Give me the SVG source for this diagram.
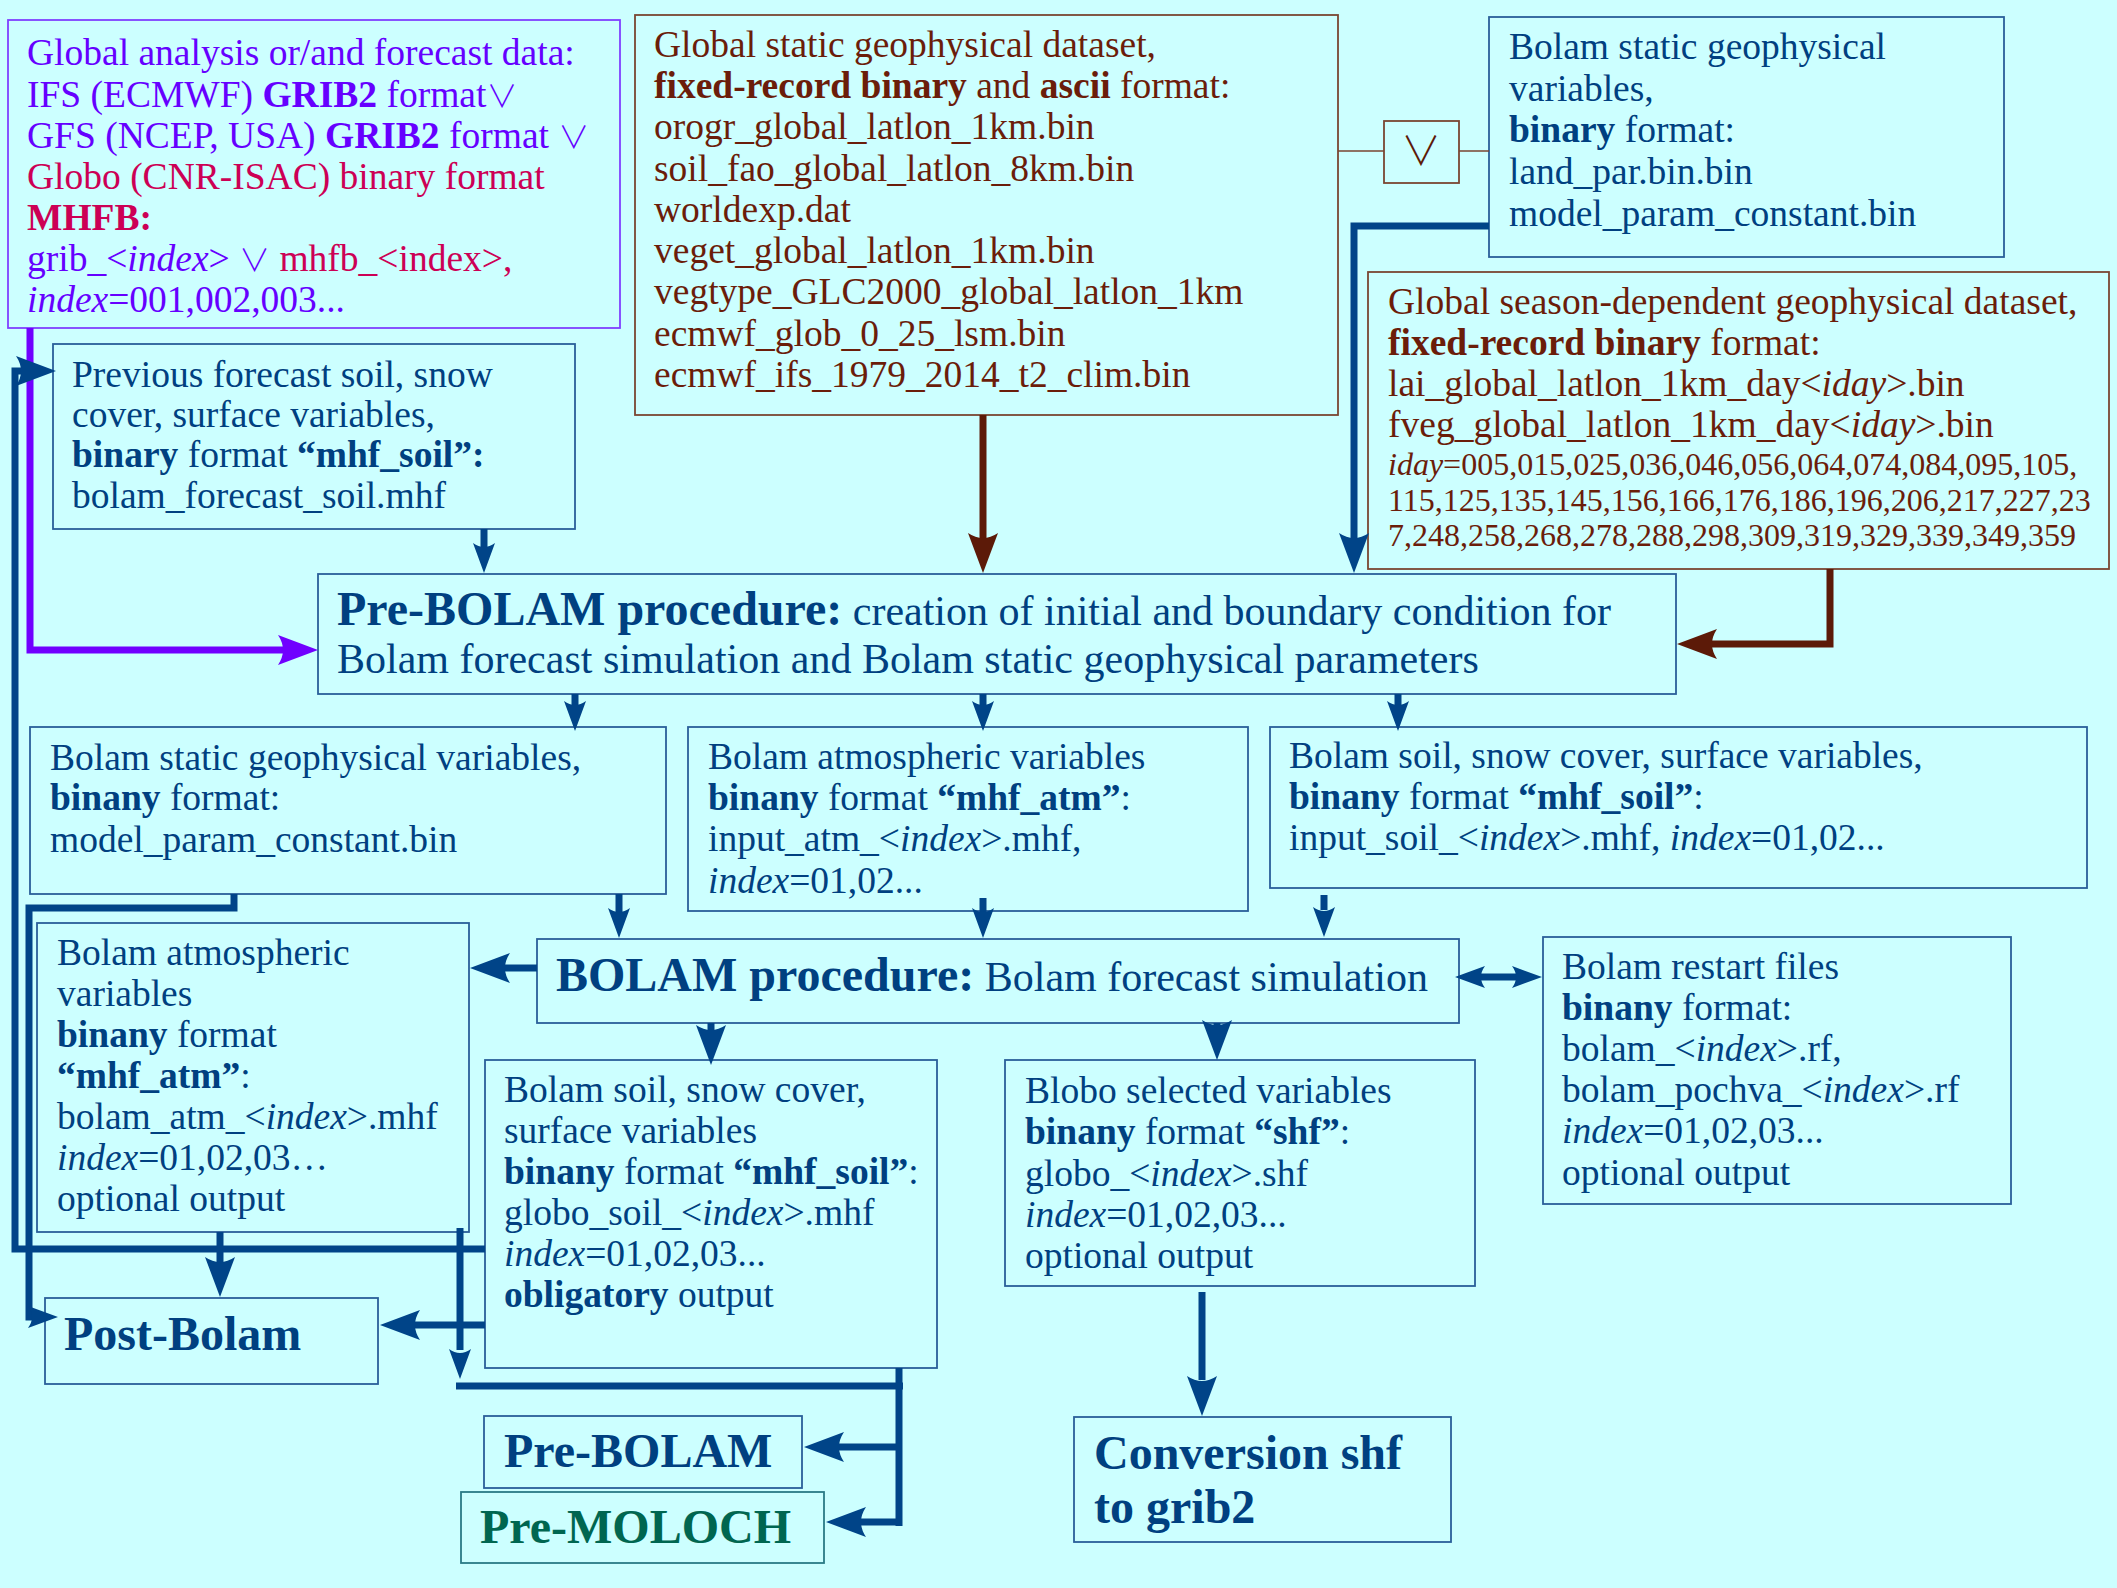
<svg xmlns="http://www.w3.org/2000/svg" xmlns:xlink="http://www.w3.org/1999/xlink" width="2117" height="1588" viewBox="0 0 2117 1588">
  <style>
    .t{font-family:"Liberation Serif","Times New Roman",serif;font-size:37.5px;fill:#004080}
    .b{font-weight:bold}
    .i{font-style:italic}
    .pu{fill:#6600ff}
    .cr{fill:#cc0055}
    .br{fill:#6b1d0a}
    .sm{font-size:32px}
    .h{font-size:48px;font-weight:bold}
    .r{font-size:42px;font-weight:normal}
    .sym{font-family:"Noto Sans CJK JP","DejaVu Sans",sans-serif;font-weight:300;font-size:31px}
    .box{fill:none;stroke:#2a5f9a;stroke-width:1.8}
    .boxp{fill:none;stroke:#8040ff;stroke-width:1.8}
    .boxb{fill:none;stroke:#7a4632;stroke-width:1.8}
    .boxg{fill:none;stroke:#2a7a86;stroke-width:1.8}
    .ln{fill:none;stroke:#004488;stroke-width:7}
    .lnp{fill:none;stroke:#7000ff;stroke-width:7}
    .lnb{fill:none;stroke:#5c1a08;stroke-width:7}
    .thin{fill:none;stroke:#7a4632;stroke-width:1.5}
    .ab{fill:#004488}
    .ap{fill:#7000ff}
    .abr{fill:#5c1a08}
  </style>
  <defs>
    <!-- arrowheads pointing along +x, tip at origin -->
    <path id="aL" d="M0,0 L-40,-15 Q-30,0 -40,15 Z"/>
    <path id="aS" d="M0,0 L-30,-11 Q-22,0 -30,11 Z"/>
  </defs>

  <rect width="2117" height="1588" fill="#ccffff"/>

  <!-- input: global analysis / forecast data -->
  <g id="global-analysis">
    <rect class="boxp" x="8" y="20" width="612" height="308"/>
    <text class="t pu" x="27" y="65">Global analysis or/and forecast data:</text>
    <text class="t pu" x="27" y="107">IFS (ECMWF) <tspan class="b">GRIB2</tspan> format<tspan class="sym">∨</tspan></text>
    <text class="t pu" x="27" y="148">GFS (NCEP, USA) <tspan class="b">GRIB2</tspan> format <tspan class="sym">∨</tspan></text>
    <text class="t cr" x="27" y="189">Globo (CNR-ISAC) binary format</text>
    <text class="t cr b" x="27" y="230">MHFB:</text>
    <text class="t pu" x="27" y="271">grib_&lt;<tspan class="i">index</tspan>&gt; <tspan class="sym">∨</tspan> <tspan class="cr">mhfb_&lt;index&gt;,</tspan></text>
    <text class="t pu" x="27" y="312"><tspan class="i">index</tspan>=001,002,003...</text>
  </g>

  <!-- input: global static geophysical dataset -->
  <g id="global-static">
    <rect class="boxb" x="635" y="15" width="703" height="400"/>
    <text class="t br" x="654" y="57">Global static geophysical dataset,</text>
    <text class="t br" x="654" y="98"><tspan class="b">fixed-record binary</tspan> and <tspan class="b">ascii</tspan> format:</text>
    <text class="t br" x="654" y="139">orogr_global_latlon_1km.bin</text>
    <text class="t br" x="654" y="181">soil_fao_global_latlon_8km.bin</text>
    <text class="t br" x="654" y="222">worldexp.dat</text>
    <text class="t br" x="654" y="263">veget_global_latlon_1km.bin</text>
    <text class="t br" x="654" y="304">vegtype_GLC2000_global_latlon_1km</text>
    <text class="t br" x="654" y="346">ecmwf_glob_0_25_lsm.bin</text>
    <text class="t br" x="654" y="387">ecmwf_ifs_1979_2014_t2_clim.bin</text>
  </g>

  <!-- "or" switch between static sources -->
  <g id="or-switch">
    <rect class="boxb" x="1384" y="121" width="75" height="62"/>
    <text x="1421" y="165" text-anchor="middle" style="font-family:'Noto Sans CJK JP','DejaVu Sans',sans-serif;font-weight:300;font-size:40px;fill:#5c1a08">∨</text>
  </g>

  <!-- input: Bolam static geophysical variables -->
  <g id="bolam-static-in">
    <rect class="box" x="1489" y="17" width="515" height="240"/>
    <text class="t" x="1509" y="59">Bolam static geophysical</text>
    <text class="t" x="1509" y="101">variables,</text>
    <text class="t" x="1509" y="142"><tspan class="b">binary</tspan> format:</text>
    <text class="t" x="1509" y="184">land_par.bin.bin</text>
    <text class="t" x="1509" y="226">model_param_constant.bin</text>
  </g>

  <!-- input: season-dependent dataset -->
  <g id="global-season">
    <rect class="boxb" x="1368" y="272" width="741" height="297"/>
    <text class="t br" x="1388" y="314">Global season-dependent geophysical dataset,</text>
    <text class="t br" x="1388" y="355"><tspan class="b">fixed-record binary</tspan> format:</text>
    <text class="t br" x="1388" y="396">lai_global_latlon_1km_day&lt;<tspan class="i">iday</tspan>&gt;.bin</text>
    <text class="t br" x="1388" y="437">fveg_global_latlon_1km_day&lt;<tspan class="i">iday</tspan>&gt;.bin</text>
    <text class="t br sm" x="1388" y="475"><tspan class="i">iday</tspan>=005,015,025,036,046,056,064,074,084,095,105,</text>
    <text class="t br sm" x="1388" y="511">115,125,135,145,156,166,176,186,196,206,217,227,23</text>
    <text class="t br sm" x="1388" y="546">7,248,258,268,278,288,298,309,319,329,339,349,359</text>
  </g>

  <!-- input: previous forecast soil -->
  <g id="previous-soil">
    <rect class="box" x="53" y="344" width="522" height="185"/>
    <text class="t" x="72" y="387">Previous forecast soil, snow</text>
    <text class="t" x="72" y="427">cover, surface variables,</text>
    <text class="t" x="72" y="467"><tspan class="b">binary</tspan> format <tspan class="b">“mhf_soil”:</tspan></text>
    <text class="t" x="72" y="508">bolam_forecast_soil.mhf</text>
  </g>

  <!-- Pre-BOLAM procedure -->
  <g id="prebolam-procedure">
    <rect class="box" x="318" y="574" width="1358" height="120"/>
    <text class="t h" x="337" y="625">Pre-BOLAM procedure:<tspan class="r"> creation of initial and boundary condition for</tspan></text>
    <text class="t" x="337" y="673" style="font-size:42px">Bolam forecast simulation and Bolam static geophysical parameters</text>
  </g>

  <!-- Pre-BOLAM outputs -->
  <g id="static-out">
    <rect class="box" x="30" y="727" width="636" height="167"/>
    <text class="t" x="50" y="770">Bolam static geophysical variables,</text>
    <text class="t" x="50" y="810"><tspan class="b">binany</tspan> format:</text>
    <text class="t" x="50" y="852">model_param_constant.bin</text>
  </g>
  <g id="atm-in">
    <rect class="box" x="688" y="727" width="560" height="184"/>
    <text class="t" x="708" y="769">Bolam atmospheric variables</text>
    <text class="t" x="708" y="810"><tspan class="b">binany</tspan> format <tspan class="b">“mhf_atm”</tspan>:</text>
    <text class="t" x="708" y="851">input_atm_&lt;<tspan class="i">index</tspan>&gt;.mhf,</text>
    <text class="t" x="708" y="893"><tspan class="i">index</tspan>=01,02...</text>
  </g>
  <g id="soil-in">
    <rect class="box" x="1270" y="727" width="817" height="161"/>
    <text class="t" x="1289" y="768">Bolam soil, snow cover, surface variables,</text>
    <text class="t" x="1289" y="809"><tspan class="b">binany</tspan> format <tspan class="b">“mhf_soil”</tspan>:</text>
    <text class="t" x="1289" y="850">input_soil_&lt;<tspan class="i">index</tspan>&gt;.mhf, <tspan class="i">index</tspan>=01,02...</text>
  </g>

  <!-- BOLAM procedure -->
  <g id="bolam-procedure">
    <rect class="box" x="537" y="939" width="922" height="84"/>
    <text class="t h" x="556" y="991">BOLAM procedure:<tspan class="r"> Bolam forecast simulation</tspan></text>
  </g>

  <!-- BOLAM outputs -->
  <g id="atm-out">
    <rect class="box" x="37" y="923" width="432" height="309"/>
    <text class="t" x="57" y="965">Bolam atmospheric</text>
    <text class="t" x="57" y="1006">variables</text>
    <text class="t" x="57" y="1047"><tspan class="b">binany</tspan> format</text>
    <text class="t" x="57" y="1088"><tspan class="b">“mhf_atm”</tspan>:</text>
    <text class="t" x="57" y="1129">bolam_atm_&lt;<tspan class="i">index</tspan>&gt;.mhf</text>
    <text class="t" x="57" y="1170"><tspan class="i">index</tspan>=01,02,03…</text>
    <text class="t" x="57" y="1211">optional output</text>
  </g>
  <g id="soil-out">
    <rect class="box" x="485" y="1060" width="452" height="308"/>
    <text class="t" x="504" y="1102">Bolam soil, snow cover,</text>
    <text class="t" x="504" y="1143">surface variables</text>
    <text class="t" x="504" y="1184"><tspan class="b">binany</tspan> format <tspan class="b">“mhf_soil”</tspan>:</text>
    <text class="t" x="504" y="1225">globo_soil_&lt;<tspan class="i">index</tspan>&gt;.mhf</text>
    <text class="t" x="504" y="1266"><tspan class="i">index</tspan>=01,02,03...</text>
    <text class="t" x="504" y="1307"><tspan class="b">obligatory</tspan> output</text>
  </g>
  <g id="shf-out">
    <rect class="box" x="1005" y="1060" width="470" height="226"/>
    <text class="t" x="1025" y="1103">Blobo selected variables</text>
    <text class="t" x="1025" y="1144"><tspan class="b">binany</tspan> format <tspan class="b">“shf”</tspan>:</text>
    <text class="t" x="1025" y="1186">globo_&lt;<tspan class="i">index</tspan>&gt;.shf</text>
    <text class="t" x="1025" y="1227"><tspan class="i">index</tspan>=01,02,03...</text>
    <text class="t" x="1025" y="1268">optional output</text>
  </g>
  <g id="restart">
    <rect class="box" x="1543" y="937" width="468" height="267"/>
    <text class="t" x="1562" y="979">Bolam restart files</text>
    <text class="t" x="1562" y="1020"><tspan class="b">binany</tspan> format:</text>
    <text class="t" x="1562" y="1061">bolam_&lt;<tspan class="i">index</tspan>&gt;.rf,</text>
    <text class="t" x="1562" y="1102">bolam_pochva_&lt;<tspan class="i">index</tspan>&gt;.rf</text>
    <text class="t" x="1562" y="1143"><tspan class="i">index</tspan>=01,02,03...</text>
    <text class="t" x="1562" y="1185">optional output</text>
  </g>

  <!-- downstream procedures -->
  <g id="post-bolam">
    <rect class="box" x="45" y="1298" width="333" height="86"/>
    <text class="t h" x="64" y="1350">Post-Bolam</text>
  </g>
  <g id="pre-bolam-next">
    <rect class="box" x="484" y="1416" width="318" height="72"/>
    <text class="t h" x="504" y="1467">Pre-BOLAM</text>
  </g>
  <g id="pre-moloch">
    <rect class="boxg" x="461" y="1492" width="363" height="71"/>
    <text class="t h" x="480" y="1543" style="fill:#006650">Pre-MOLOCH</text>
  </g>
  <g id="conversion">
    <rect class="box" x="1074" y="1417" width="377" height="125"/>
    <text class="t h" x="1094" y="1469">Conversion shf</text>
    <text class="t h" x="1094" y="1523">to grib2</text>
  </g>

  <!-- connectors -->
  <g id="connectors">
    <!-- or-switch links -->
    <path class="thin" d="M1338,151 H1384 M1459,151 H1489"/>

    <!-- global data into Pre-BOLAM -->
    <path class="lnp" d="M30,328 V650 H285"/>
    <use xlink:href="#aL" class="ap" transform="translate(318,650)"/>

    <!-- previous soil into Pre-BOLAM -->
    <path class="ln" d="M484,529 V548"/>
    <use xlink:href="#aS" class="ab" transform="translate(484,573) rotate(90)"/>

    <!-- static dataset into Pre-BOLAM -->
    <path class="lnb" d="M983,415 V540"/>
    <use xlink:href="#aL" class="abr" transform="translate(983,573) rotate(90)"/>

    <!-- Bolam static input into Pre-BOLAM -->
    <path class="ln" d="M1489,226 H1354 V540"/>
    <use xlink:href="#aL" class="ab" transform="translate(1354,573) rotate(90)"/>

    <!-- season dataset into Pre-BOLAM -->
    <path class="lnb" d="M1830,569 V644 H1710"/>
    <use xlink:href="#aL" class="abr" transform="translate(1677,644) rotate(180)"/>

    <!-- Pre-BOLAM outputs -->
    <path class="ln" d="M575,694 V706 M983,694 V706 M1398,694 V706"/>
    <use xlink:href="#aS" class="ab" transform="translate(575,731) rotate(90)"/>
    <use xlink:href="#aS" class="ab" transform="translate(983,731) rotate(90)"/>
    <use xlink:href="#aS" class="ab" transform="translate(1398,731) rotate(90)"/>

    <!-- inputs into BOLAM -->
    <path class="ln" d="M619,894 V912 M983,898 V912 M1324,895 V910"/>
    <use xlink:href="#aS" class="ab" transform="translate(619,938) rotate(90)"/>
    <use xlink:href="#aS" class="ab" transform="translate(983,938) rotate(90)"/>
    <use xlink:href="#aS" class="ab" transform="translate(1324,937) rotate(90)"/>

    <!-- BOLAM to atmospheric output -->
    <path class="ln" d="M537,968 H505"/>
    <use xlink:href="#aL" class="ab" transform="translate(470,968) rotate(180)"/>

    <!-- BOLAM to/from restart files -->
    <path class="ln" d="M1478,977 H1520"/>
    <use xlink:href="#aS" class="ab" transform="translate(1455,977) rotate(180)"/>
    <use xlink:href="#aS" class="ab" transform="translate(1542,977)"/>

    <!-- BOLAM to soil and shf outputs -->
    <path class="ln" d="M711,1023 V1038 M1217,1023 V1035"/>
    <use xlink:href="#aL" class="ab" transform="translate(711,1065) rotate(90)"/>
    <use xlink:href="#aL" class="ab" transform="translate(1217,1060) rotate(90)"/>

    <!-- shf to conversion -->
    <path class="ln" d="M1202,1292 V1380"/>
    <use xlink:href="#aL" class="ab" transform="translate(1202,1416) rotate(90)"/>

    <!-- atmospheric output to Post-Bolam -->
    <path class="ln" d="M220,1232 V1262"/>
    <use xlink:href="#aL" class="ab" transform="translate(220,1297) rotate(90)"/>

    <!-- soil output to Post-Bolam -->
    <path class="ln" d="M485,1325 H414"/>
    <use xlink:href="#aL" class="ab" transform="translate(380,1325) rotate(180)"/>

    <!-- soil output fed back as previous forecast soil -->
    <path class="ln" d="M485,1249 H15 V371 H26"/>
    <use xlink:href="#aL" class="ab" transform="translate(56,371)"/>

    <!-- static output to Post-Bolam -->
    <path class="ln" d="M234,894 V908 H29 V1317 H34"/>
    <use xlink:href="#aS" class="ab" transform="translate(58,1317)"/>

    <!-- soil output to next Pre-BOLAM / Pre-MOLOCH -->
    <path class="ln" d="M460,1228 V1350"/>
    <use xlink:href="#aS" class="ab" transform="translate(460,1379) rotate(90)"/>
    <path class="ln" d="M456,1386 H903 M899,1368 V1526 M899,1447 H836 M899,1522 H857"/>
    <use xlink:href="#aL" class="ab" transform="translate(804,1447) rotate(180)"/>
    <use xlink:href="#aL" class="ab" transform="translate(826,1522) rotate(180)"/>
  </g>
</svg>
